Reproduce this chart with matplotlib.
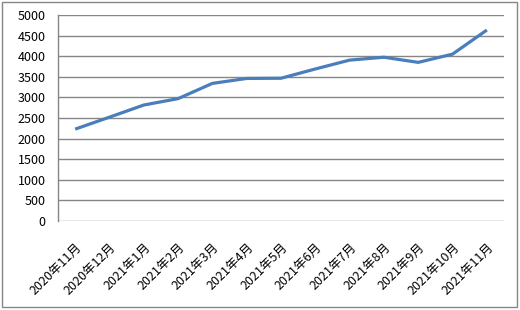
import matplotlib.pyplot as plt
from matplotlib.patches import Rectangle

plt.rcParams['font.family'] = ['Noto Sans CJK SC', 'DejaVu Sans']

months = ["2020年11月", "2020年12月", "2021年1月", "2021年2月", "2021年3月",
          "2021年4月", "2021年5月", "2021年6月", "2021年7月", "2021年8月",
          "2021年9月", "2021年10月", "2021年11月"]
values = [2230, 2520, 2815, 2970, 3340, 3460, 3465, 3690, 3905, 3975,
          3850, 4050, 4635]
y_ticks = list(range(0, 5001, 500))

fig = plt.figure(figsize=(5.2, 3.1), dpi=100)
ax = fig.add_axes([58 / 520, 1 - 221 / 310, 446 / 520, 206 / 310])

x = list(range(len(months)))
ax.plot(x, values, color="#4A7EBB", linewidth=2.3, solid_capstyle="butt")

ax.set_xlim(-0.5, len(months) - 0.5)
ax.set_ylim(0, 5000)
ax.set_yticks(y_ticks)
ax.set_xticks(x)
ax.set_xticklabels(months, rotation=45, ha="right", va="top",
                   rotation_mode="anchor", fontsize=9)
ax.tick_params(axis="y", length=0, pad=9, labelsize=9)
ax.tick_params(axis="x", length=0, pad=14)
ax.grid(axis="y", color="#868686", linewidth=1)
ax.set_axisbelow(True)
for side in ["top", "right", "bottom"]:
    ax.spines[side].set_visible(False)
ax.spines["left"].set_color("#868686")
ax.spines["left"].set_linewidth(1)

fig.patches.append(Rectangle((2 / 520, 3 / 310), 515 / 520, 305 / 310,
                             transform=fig.transFigure, fill=False,
                             edgecolor="#868686", linewidth=1))

fig.savefig("out.png", dpi=100)
